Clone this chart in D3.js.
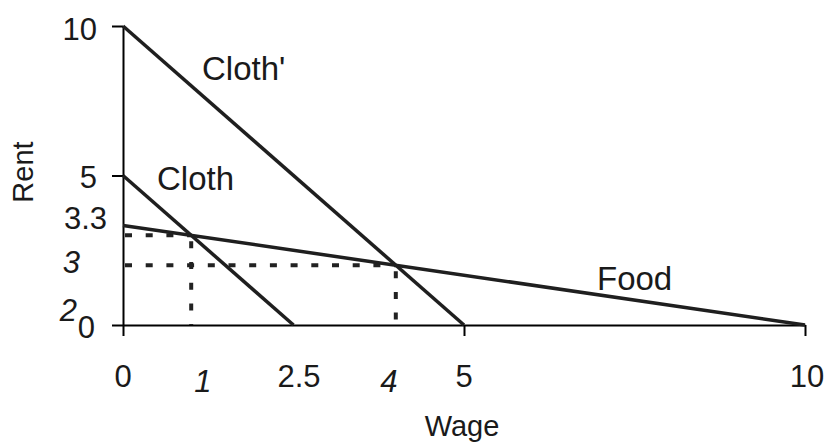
<!DOCTYPE html>
<html>
<head>
<meta charset="utf-8">
<script src="https://cdn.jsdelivr.net/npm/d3@7"></script>
<style>
  body { margin: 0; background: #fff; }
  svg text { font-family: "Liberation Sans", Arial, sans-serif; fill: #1a1a1a; }
</style>
</head>
<body>
<svg id="chart" width="827" height="447"></svg>
<script>
// Lines as [wage, rent] end points
const clothPrime = [[0, 10], [5, 0]];
const cloth = [[0, 5], [2.5, 0]];
const food = [[0, 3.33], [10, 0]];
const lineNames = ["Cloth'", "Cloth", "Food"];

// Equilibrium points (where Cloth / Cloth' meet Food)
const equilibria = [[1, 3], [4, 2]];

// Axis ticks
const xTicks = [0, 5, 10];
const yTicks = [0, 5, 10];

// Tick labels as drawn in the picture (text and where it sits in data units)
const xLabelText = ["0", "1", "2.5", "4", "5", "10"];
const xLabelAt = [0, 1.17, 2.58, 3.9, 5, 10.03];
const xLabelItalic = [false, true, false, true, false, false];

const yLabelText = ["10", "5", "3.3", "3", "2", "0"];
const yLabelAt = [9.9, 4.95, 3.58, 2.1, 0.5, -0.07];
const yLabelItalic = [false, false, false, true, true, false];

const svg = d3.select("#chart");
const x = d3.scaleLinear().domain([0, 10]).range([123, 805]);
const y = d3.scaleLinear().domain([0, 10]).range([325, 26]);

const ink = "#1f1f1f";

// Axes
const xAxis = d3.axisBottom(x).tickValues(xTicks).tickSize(11).tickFormat("").tickSizeOuter(0);
const yAxis = d3.axisLeft(y).tickValues(yTicks).tickSize(11).tickFormat("").tickSizeOuter(0);

svg.append("g").attr("transform", `translate(0,${y(0)})`).call(xAxis)
  .call(g => g.selectAll("path,line").attr("stroke", "#000").attr("stroke-width", 2));
svg.append("g").attr("transform", `translate(${x(0)},0)`).call(yAxis)
  .call(g => g.selectAll("path,line").attr("stroke", "#000").attr("stroke-width", 2));

// Dashed guides
const dash = svg.append("g")
  .attr("stroke", "#222").attr("stroke-width", 4).attr("stroke-dasharray", "7,13.7").attr("fill", "none");
equilibria.forEach(([w, r]) => {
  dash.append("line").attr("x1", x(0) + 2).attr("y1", y(r)).attr("x2", x(w)).attr("y2", y(r));
  dash.append("line").attr("x1", x(w)).attr("y1", y(r) + 6).attr("x2", x(w)).attr("y2", y(0));
});

// Curves
const lineGen = d3.line().x(d => x(d[0])).y(d => y(d[1]));
[clothPrime, cloth, food].forEach(pts => {
  svg.append("path").attr("d", lineGen(pts))
    .attr("fill", "none").attr("stroke", ink).attr("stroke-width", 3.5);
});

// Curve labels
const labelPos = [[202, 80], [157, 190], [597, 290]];
lineNames.forEach((name, i) => {
  svg.append("text").attr("x", labelPos[i][0]).attr("y", labelPos[i][1])
    .attr("font-size", 33).text(name);
});

// X tick labels
xLabelText.forEach((t, i) => {
  svg.append("text")
    .attr("x", x(xLabelAt[i]))
    .attr("y", xLabelItalic[i] ? 392 : 387)
    .attr("text-anchor", "middle")
    .attr("font-size", 31)
    .attr("font-style", xLabelItalic[i] ? "italic" : "normal")
    .text(t);
});

// Y tick labels
const yLabelRight = [97, 97, 107, 80, 77, 95];
yLabelText.forEach((t, i) => {
  svg.append("text")
    .attr("x", yLabelRight[i])
    .attr("y", y(yLabelAt[i]))
    .attr("dy", "0.36em")
    .attr("text-anchor", "end")
    .attr("font-size", 31)
    .attr("font-style", yLabelItalic[i] ? "italic" : "normal")
    .text(t);
});

// Axis titles
svg.append("text").attr("x", 462).attr("y", 436).attr("text-anchor", "middle")
  .attr("font-size", 29).text("Wage");
svg.append("text").attr("transform", "translate(33,172) rotate(-90)").attr("text-anchor", "middle")
  .attr("font-size", 29).text("Rent");
</script>
</body>
</html>
